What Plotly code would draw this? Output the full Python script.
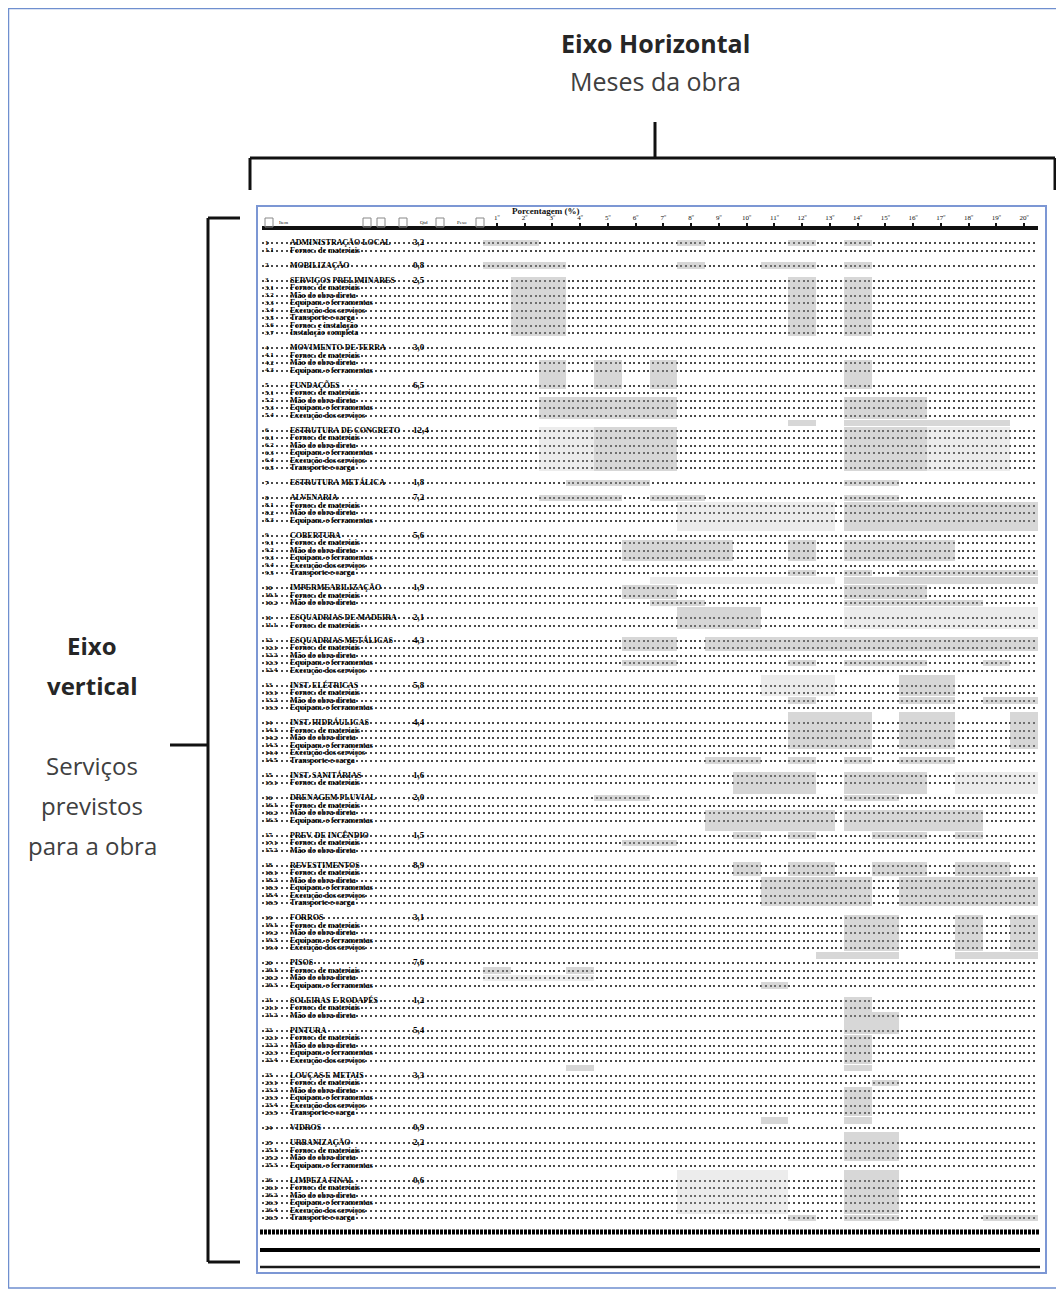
import plotly.graph_objects as go

# page is drawn with an 8px body margin, so the figure is 8px smaller
OFF = 8
W, H = 1064 - OFF, 1295 - OFF

# ---------------- data ----------------
months = ["1º", "2º", "3º", "4º", "5º", "6º", "7º", "8º", "9º", "10º",
          "11º", "12º", "13º", "14º", "15º", "16º", "17º", "18º", "19º", "20º"]

services = ["ADMINISTRAÇÃO LOCAL", "MOBILIZAÇÃO", "SERVIÇOS PRELIMINARES",
            "MOVIMENTO DE TERRA", "FUNDAÇÕES", "ESTRUTURA DE CONCRETO",
            "ESTRUTURA METÁLICA", "ALVENARIA", "COBERTURA", "IMPERMEABILIZAÇÃO",
            "ESQUADRIAS DE MADEIRA", "ESQUADRIAS METÁLICAS", "INST. ELÉTRICAS",
            "INST. HIDRÁULICAS", "INST. SANITÁRIAS", "DRENAGEM PLUVIAL",
            "PREV. DE INCÊNDIO", "REVESTIMENTOS", "FORROS", "PISOS",
            "SOLEIRAS E RODAPÉS", "PINTURA", "LOUÇAS E METAIS", "VIDROS",
            "URBANIZAÇÃO", "LIMPEZA FINAL"]
group_sizes = [2, 1, 8, 4, 5, 6, 1, 4, 6, 3, 2, 5, 4, 6, 2, 4, 3, 6, 5, 4, 3, 5, 6, 1, 4, 6]
weights = ["3,2", "0,8", "2,5", "3,0", "6,5", "12,4", "1,8", "7,2", "5,6", "1,9",
           "2,1", "4,3", "5,8", "4,4", "1,6", "2,0", "1,5", "8,9", "3,1", "7,6",
           "1,2", "5,4", "3,3", "0,9", "2,2", "0,6"]
sub_items = ["Fornec. de materiais", "Mão de obra direta", "Equipam. e ferramentas",
             "Execução dos serviços", "Transporte e carga", "Fornec. e instalação",
             "Instalação completa", "Acabamento final"]

# gray schedule blocks: first row, last row, start month, end month
dark_r0 = [0, 0, 0, 0, 3, 3, 3, 3, 5, 5, 5, 16, 16, 16, 16, 21, 21, 24, 24, 25, 25,
           32, 32, 34, 34, 34, 35, 40, 40, 40, 44, 44, 44, 45, 46, 46, 48, 48, 49,
           53, 53, 56, 56, 56, 56, 58, 61, 61, 61, 63, 63, 63, 69, 69, 69, 69,
           71, 71, 74, 74, 76, 76, 79, 79, 79, 79, 80, 83, 83, 83, 83, 85, 85,
           90, 90, 90, 95, 95, 97, 97, 99, 101, 103, 106, 110, 110, 112, 113, 117, 117,
           119, 124, 130, 130, 130]
dark_r1 = [0, 0, 0, 0, 3, 3, 3, 3, 12, 12, 12, 19, 19, 19, 19, 23, 23, 24, 24, 30, 30,
           32, 32, 34, 34, 34, 38, 42, 42, 42, 44, 44, 44, 45, 47, 47, 48, 48, 51,
           54, 54, 56, 56, 56, 56, 60, 61, 61, 61, 67, 67, 67, 69, 69, 69, 69,
           73, 73, 74, 74, 78, 78, 79, 79, 79, 79, 80, 84, 84, 84, 84, 88, 88,
           94, 94, 94, 95, 95, 97, 97, 99, 105, 105, 109, 110, 110, 112, 116, 117, 117,
           122, 129, 130, 130, 130]
dark_s = [0, 7, 11, 13, 0, 7, 10, 13, 1, 11, 13, 2, 4, 6, 13, 2, 13, 11, 13, 4, 13,
          3, 13, 2, 6, 13, 13, 5, 11, 13, 11, 13, 15, 13, 5, 13, 6, 13, 7,
          5, 8, 5, 11, 13, 18, 15, 11, 15, 18, 11, 15, 19, 8, 11, 13, 15,
          9, 13, 4, 13, 8, 13, 9, 11, 14, 17, 5, 9, 11, 14, 17, 10, 15,
          13, 17, 19, 12, 17, 0, 3, 10, 13, 14, 13, 3, 13, 14, 13, 10, 13,
          13, 13, 11, 13, 18]
dark_e = [2, 8, 12, 14, 3, 8, 12, 14, 3, 12, 14, 3, 5, 7, 14, 7, 16, 12, 19, 7, 16,
          6, 15, 5, 8, 15, 20, 9, 12, 17, 12, 14, 20, 20, 7, 16, 8, 18, 10,
          7, 20, 7, 12, 16, 19, 17, 12, 17, 20, 14, 17, 20, 10, 12, 14, 17,
          12, 16, 6, 15, 12.7, 18, 10, 12, 16, 18, 7, 10, 12.7, 16, 19, 14, 20,
          15, 18, 20, 15, 20, 1, 4, 11, 14, 15, 14, 4, 14, 15, 14, 11, 14,
          15, 15, 12, 15, 20]

light_r0 = [25, 25, 35, 45, 49, 58, 71, 98, 124]
light_r1 = [30, 30, 38, 45, 51, 60, 73, 98, 129]
light_s = [2, 16, 7, 6, 13, 10, 17, 0, 7]
light_e = [4, 19, 12.7, 12.7, 20, 12.7, 20, 4, 11]

# ---------------- derived rows ----------------
line_slots, line_text, item_text, w_slots, w_text = [], [], [], [], []
p = 0
for gi, (name, size) in enumerate(zip(services, group_sizes)):
    for k in range(size):
        line_slots.append(p + k)
        if k == 0:
            line_text.append(name)
            item_text.append(str(gi + 1))
        else:
            line_text.append(sub_items[(k - 1) % len(sub_items)])
            item_text.append(f"{gi + 1}.{k}")
    w_slots.append(p)
    w_text.append(weights[gi])
    p += size + 1


# ---------------- geometry helpers (paper coords from page pixels) ----------------
def X(px):
    return (px - OFF) / W


def Y(py):
    return 1 - (py - OFF) / H


col_w = 27.75
x0_px, x1_px = 262, 1038
xr = [-(483 - x0_px) / col_w, 20]
row_h = 7.5
top_px, bot_px = 230, 1229
yr = [(bot_px - 243) / row_h, (top_px - 243) / row_h]

fig = go.Figure()


def add_blocks(r0, r1, s, e, color):
    fig.add_trace(go.Bar(
        orientation="h",
        y=[(a + b) / 2 for a, b in zip(r0, r1)],
        x=[b - a for a, b in zip(s, e)],
        base=s,
        width=[b - a + 0.85 for a, b in zip(r0, r1)],
        marker=dict(color=color, line=dict(width=0)),
        hoverinfo="skip", showlegend=False,
    ))


add_blocks(light_r0, light_r1, light_s, light_e, "rgba(185,185,185,0.28)")
add_blocks(dark_r0, dark_r1, dark_s, dark_e, "rgba(160,160,160,0.42)")

# left column texts
lab_x = (290 - 483) / col_w
item_x = (265 - 483) / col_w
wt_x = (413 - 483) / col_w
fig.add_trace(go.Scatter(
    x=[lab_x] * len(line_slots), y=line_slots, mode="text", text=line_text,
    textposition="middle right", cliponaxis=False,
    textfont=dict(family="Liberation Serif", size=8, color="#000", weight="bold"),
    hoverinfo="skip", showlegend=False))
fig.add_trace(go.Scatter(
    x=[item_x] * len(line_slots), y=line_slots, mode="text", text=item_text,
    textposition="middle right", cliponaxis=False,
    textfont=dict(family="Liberation Serif", size=7, color="#000", weight="bold"),
    hoverinfo="skip", showlegend=False))
fig.add_trace(go.Scatter(
    x=[wt_x] * len(w_slots), y=w_slots, mode="text", text=w_text,
    textposition="middle right", cliponaxis=False,
    textfont=dict(family="Liberation Serif", size=9, color="#000", weight="bold"),
    hoverinfo="skip", showlegend=False))

fig.update_layout(
    width=W, height=H, margin=dict(l=0, r=0, t=0, b=0),
    paper_bgcolor="white", plot_bgcolor="rgba(0,0,0,0)",
    barmode="overlay", bargap=0,
    xaxis=dict(domain=[X(x0_px), X(x1_px)], range=xr, side="top",
               tickvals=[i + 0.5 for i in range(20)], ticktext=months,
               tickfont=dict(family="Liberation Serif", size=7, color="#111"),
               ticks="outside", ticklen=3, tickwidth=2, tickcolor="#111",
               showline=True, linewidth=4, linecolor="#111",
               showgrid=False, zeroline=False, fixedrange=True),
    yaxis=dict(domain=[Y(bot_px), Y(top_px)], range=yr,
               tickvals=line_slots, showticklabels=False, ticks="",
               showgrid=True, gridcolor="#4a4a4a", gridwidth=2,
               griddash="2px,2.7px", zeroline=False, showline=False,
               fixedrange=True),
)

shapes = []
blue = "#7c97d4"
# outer frame
shapes.append(dict(type="rect", xref="paper", yref="paper", x0=X(8.5), x1=X(1063),
                   y0=Y(1288), y1=Y(8.5), line=dict(color="#6f8fcf", width=1.5)))
# inner box
shapes.append(dict(type="rect", xref="paper", yref="paper", x0=X(257), x1=X(1046),
                   y0=Y(1273), y1=Y(206), line=dict(color=blue, width=2)))
# top bracket
for (a, b, c, d) in [(655, 122, 655, 158), (250, 158, 1055, 158),
                     (250, 158, 250, 190), (1055, 158, 1055, 190)]:
    shapes.append(dict(type="line", xref="paper", yref="paper",
                       x0=X(a), y0=Y(b), x1=X(c), y1=Y(d),
                       line=dict(color="#111", width=3)))
# left bracket
for (a, b, c, d) in [(208, 218, 208, 1262), (208, 218, 240, 218),
                     (208, 1262, 240, 1262), (170, 745, 208, 745)]:
    shapes.append(dict(type="line", xref="paper", yref="paper",
                       x0=X(a), y0=Y(b), x1=X(c), y1=Y(d),
                       line=dict(color="#111", width=3)))
# bottom heavy lines
shapes.append(dict(type="line", xref="paper", yref="paper", x0=X(260), x1=X(1040),
                   y0=Y(1232), y1=Y(1232), line=dict(color="#000", width=5, dash="3px,1px")))
shapes.append(dict(type="line", xref="paper", yref="paper", x0=X(260), x1=X(1040),
                   y0=Y(1250), y1=Y(1250), line=dict(color="#000", width=4)))
shapes.append(dict(type="line", xref="paper", yref="paper", x0=X(260), x1=X(1040),
                   y0=Y(1267), y1=Y(1267), line=dict(color="#1a1a1a", width=2.5)))
# small header filter squares
for sx in [265, 363, 377, 399, 436, 476]:
    shapes.append(dict(type="rect", xref="paper", yref="paper", x0=X(sx), x1=X(sx + 8),
                       y0=Y(227), y1=Y(218), line=dict(color="#888", width=1)))
fig.update_layout(shapes=shapes)


def note(text, px, py, size, color, family="Open Sans"):
    return dict(text=text, x=X(px), y=Y(py), xref="paper", yref="paper",
                xanchor="center", yanchor="middle", showarrow=False,
                font=dict(family=family, size=size, color=color))


ann = [note("<b>Eixo Horizontal</b>", 655, 43, 25, "#262626"),
       note("Meses da obra", 655, 81, 25, "#404040"),
       note("<b>Eixo</b>", 92, 645, 24, "#262626"),
       note("<b>vertical</b>", 92, 685, 24, "#262626"),
       note("Serviços", 92, 765, 24, "#404040"),
       note("previstos", 92, 805, 24, "#404040"),
       note("para a obra", 92, 845, 24, "#404040"),
       note("<b>Porcentagem (%)</b>", 546, 211, 9, "#111", "Liberation Serif")]
for t, px in [("Item", 283), ("Qtd", 424), ("Peso", 462)]:
    ann.append(note(t, px, 223, 5, "#111", "Liberation Serif"))
fig.update_layout(annotations=ann)

fig.write_html("out.html", config={"displayModeBar": False})
